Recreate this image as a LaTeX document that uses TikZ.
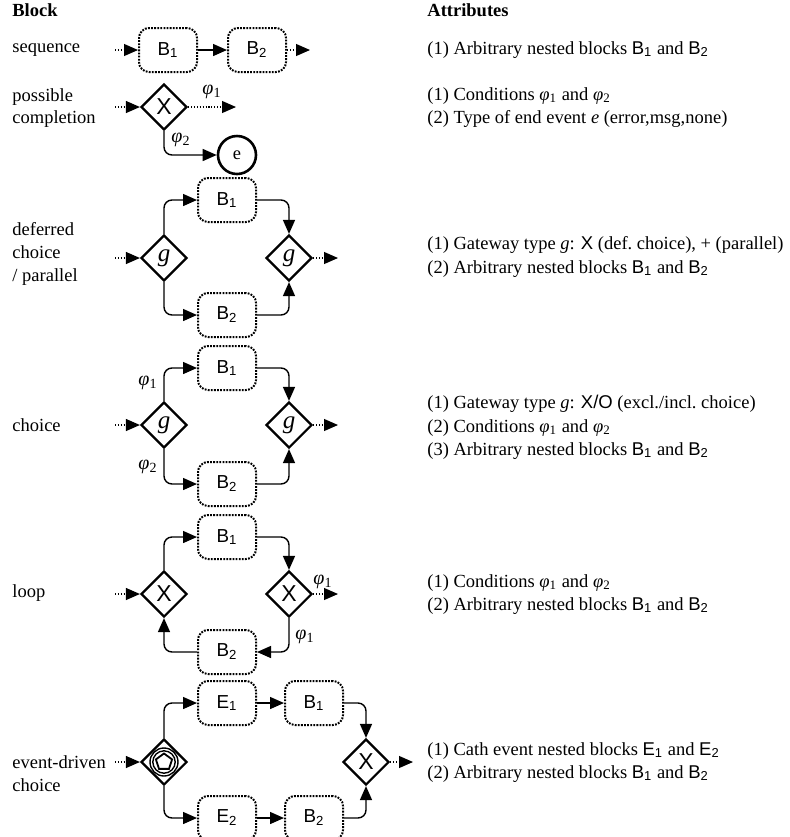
\documentclass[tikz,border=0pt]{standalone}
\usepackage{fontspec}
\setmainfont{Liberation Serif}
\setsansfont{Liberation Sans}
\usetikzlibrary{arrows.meta,shapes.geometric}
\newcommand{\lbsub}[2]{{\sffamily #1\textsubscript{#2}}}
\newcommand{\phisub}[1]{{\itshape φ}\textsubscript{#1}}
\begin{document}
\begin{tikzpicture}[x=0.5pt,y=-0.5pt,font=\fontsize{9.25pt}{11.5pt}\selectfont]
\tikzset{
 blk/.style={draw, line width=1pt, dash pattern=on 0.9pt off 0.65pt, rounded corners=5pt, minimum width=29pt, minimum height=22pt, inner sep=0pt, font=\sffamily\fontsize{9.4pt}{11.5pt}\selectfont},
 gw/.style={draw, diamond, line width=1.1pt, minimum width=23pt, minimum height=23pt, inner sep=0pt, font=\sffamily\fontsize{11.5pt}{12pt}\selectfont},
 gwg/.style={gw, font=\rmfamily\itshape\fontsize{12.5pt}{13pt}\selectfont},
 flow/.style={line width=0.7pt, rounded corners=4pt, -{Triangle[length=7pt,width=6pt]}},
 dflow/.style={line width=0.55pt, dash pattern=on 0.55pt off 0.9pt, -{Triangle[length=7pt,width=6pt]}},
 endev/.style={draw, circle, line width=1.3pt, minimum size=19pt, inner sep=0pt},
 lbl/.style={anchor=base west, inner sep=0pt},
 cond/.style={inner sep=0pt, font=\fontsize{10pt}{12pt}\selectfont},
}
\useasboundingbox (0,0) rectangle (789,837);
\clip (0,0) rectangle (789,837);

% ---- left column labels
\node[lbl] (hB) at (12,16) {\textbf{Block}};
\node[lbl] (l1) at (12,52) {sequence};
\node[lbl] (l2a) at (12,101) {possible};
\node[lbl] (l2b) at (12,123) {completion};
\node[lbl] (l3a) at (12,235) {deferred};
\node[lbl] (l3b) at (12,258) {choice};
\node[lbl] (l3c) at (12,281) {/ parallel};
\node[lbl] (l4) at (12,431) {choice};
\node[lbl] (l5) at (12,597) {loop};
\node[lbl] (l6a) at (12,768) {event-driven};
\node[lbl] (l6b) at (12,791) {choice};

% ---- right column
\node[lbl] (hA) at (427,16) {\textbf{Attributes}};
\node[lbl] (a1) at (427,54) {(1) Arbitrary nested blocks \lbsub{B}{1} and \lbsub{B}{2}};
\node[lbl] (a2a) at (427,100) {(1) Conditions \phisub{1} and \phisub{2}};
\node[lbl] (a2b) at (427,123) {(2) Type of end event \textit{e} (error,msg,none)};
\node[lbl] (a3a) at (427,249) {(1) Gateway type \textit{g}: {\sffamily X} (def.\ choice), + (parallel)};
\node[lbl] (a3b) at (427,273) {(2) Arbitrary nested blocks \lbsub{B}{1} and \lbsub{B}{2}};
\node[lbl] (a4a) at (427,408) {(1) Gateway type \textit{g}: {\sffamily X/O} (excl./incl.\ choice)};
\node[lbl] (a4b) at (427,432) {(2) Conditions \phisub{1} and \phisub{2}};
\node[lbl] (a4c) at (427,455) {(3) Arbitrary nested blocks \lbsub{B}{1} and \lbsub{B}{2}};
\node[lbl] (a5a) at (427,587) {(1) Conditions \phisub{1} and \phisub{2}};
\node[lbl] (a5b) at (427,610) {(2) Arbitrary nested blocks \lbsub{B}{1} and \lbsub{B}{2}};
\node[lbl] (a6a) at (427,755) {(1) Cath event nested blocks \lbsub{E}{1} and \lbsub{E}{2}};
\node[lbl] (a6b) at (427,778) {(2) Arbitrary nested blocks \lbsub{B}{1} and \lbsub{B}{2}};

% ---- sequence
\coordinate (s0) at (115,50);
\node[blk] (sB1) at (168,50) {B\textsubscript{1}};
\node[blk] (sB2) at (257,50) {B\textsubscript{2}};
\coordinate (s1) at (310,50);
\draw[dflow] (s0) -- (sB1.west);
\draw[flow] (sB1.east) -- (sB2.west);
\draw[dflow] (sB2.east) -- (s1);

% ---- possible completion
\coordinate (p0) at (115,107);
\node[gw] (pG) at (164,107) {X};
\coordinate (p1) at (236,107);
\node[endev] (pE) at (237,155) {e};
\draw[dflow] (p0) -- (pG.west);
\draw[dflow] (pG.east) -- (p1);
\draw[flow] (pG.south) |- (pE.west);
\node[cond] (pc1) at (212,92) {\phisub{1}};
\node[cond] (pc2) at (181,140) {\phisub{2}};

% ---- deferred choice / parallel
\coordinate (d0) at (115,258);
\node[gwg] (dG1) at (164,258) {g};
\node[blk] (dB1) at (227,200) {B\textsubscript{1}};
\node[blk] (dB2) at (227,315) {B\textsubscript{2}};
\node[gwg] (dG2) at (289,258) {g};
\coordinate (d1) at (338,258);
\draw[dflow] (d0) -- (dG1.west);
\draw[flow] (dG1.north) |- (dB1.west);
\draw[flow] (dG1.south) |- (dB2.west);
\draw[flow] (dB1.east) -| (dG2.north);
\draw[flow] (dB2.east) -| (dG2.south);
\draw[dflow] (dG2.east) -- (d1);

% ---- choice
\coordinate (c0) at (115,425);
\node[gwg] (cG1) at (164,425) {g};
\node[blk] (cB1) at (227,368) {B\textsubscript{1}};
\node[blk] (cB2) at (227,484) {B\textsubscript{2}};
\node[gwg] (cG2) at (289,425) {g};
\coordinate (c1) at (338,425);
\draw[dflow] (c0) -- (cG1.west);
\draw[flow] (cG1.north) |- (cB1.west);
\draw[flow] (cG1.south) |- (cB2.west);
\draw[flow] (cB1.east) -| (cG2.north);
\draw[flow] (cB2.east) -| (cG2.south);
\draw[dflow] (cG2.east) -- (c1);
\node[cond] (cc1) at (148,383) {\phisub{1}};
\node[cond] (cc2) at (148,467) {\phisub{2}};

% ---- loop
\coordinate (o0) at (115,594);
\node[gw] (oG1) at (164,594) {X};
\node[blk] (oB1) at (227,537) {B\textsubscript{1}};
\node[blk] (oB2) at (227,652) {B\textsubscript{2}};
\node[gw] (oG2) at (289,594) {X};
\coordinate (o1) at (338,594);
\draw[dflow] (o0) -- (oG1.west);
\draw[flow] (oG1.north) |- (oB1.west);
\draw[flow] (oB1.east) -| (oG2.north);
\draw[flow] (oG2.south) |- (oB2.east);
\draw[flow] (oB2.west) -| (oG1.south);
\draw[dflow] (oG2.east) -- (o1);
\node[cond] (oc1) at (323,582) {\phisub{1}};
\node[cond] (oc2) at (305,637) {\phisub{1}};

% ---- event-driven choice
\coordinate (e0) at (115,762);
\node[gw] (eG1) at (164,762) {};
\draw[line width=0.7pt] (eG1.center) circle[radius=7pt];
\draw[line width=0.7pt] (eG1.center) circle[radius=5.6pt];
\node[draw, regular polygon, regular polygon sides=5, minimum size=8.5pt, inner sep=0pt, line width=0.9pt] (ePent) at (eG1.center) {};
\node[blk] (eE1) at (227,703) {E\textsubscript{1}};
\node[blk] (eB1) at (314,703) {B\textsubscript{1}};
\node[blk] (eE2) at (227,818) {E\textsubscript{2}};
\node[blk] (eB2) at (314,818) {B\textsubscript{2}};
\node[gw] (eG2) at (366,762) {X};
\coordinate (e1) at (413,762);
\draw[dflow] (e0) -- (eG1.west);
\draw[flow] (eG1.north) |- (eE1.west);
\draw[flow] (eG1.south) |- (eE2.west);
\draw[flow] (eE1.east) -- (eB1.west);
\draw[flow] (eE2.east) -- (eB2.west);
\draw[flow] (eB1.east) -| (eG2.north);
\draw[flow] (eB2.east) -| (eG2.south);
\draw[dflow] (eG2.east) -- (e1);
\end{tikzpicture}
\end{document}
